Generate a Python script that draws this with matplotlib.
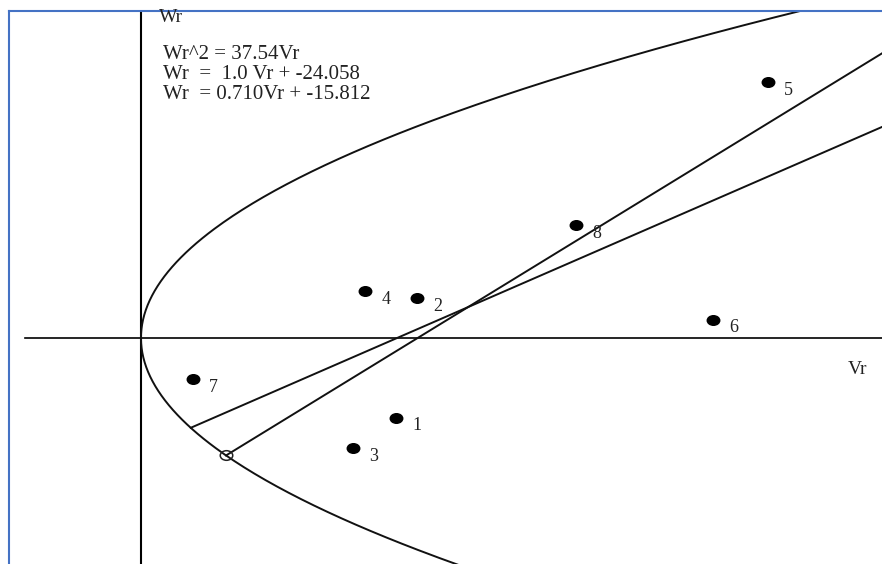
import numpy as np
import matplotlib
matplotlib.use("Agg")
import matplotlib.pyplot as plt
from matplotlib.path import Path
from matplotlib.transforms import Affine2D
from matplotlib.lines import Line2D

plt.rcParams['font.family'] = ['Liberation Serif', 'DejaVu Serif']

# data
point_labels = ['1', '2', '3', '4', '5', '6', '7', '8']
vr_points = [22.2, 24.0, 18.4, 19.5, 54.5, 49.7, 4.5, 37.8]
wr_points = [-11.3, 5.7, -15.6, 6.6, 36.3, 2.6, -5.8, 16.0]

k_par = 37.54                     # Wr^2 = k Vr
slope_1, icpt_1 = 1.0, -24.058    # Wr = a Vr + b
slope_2, icpt_2 = 0.710, -15.812

eq_text = ["Wr^2 = 37.54Vr",
           "Wr  =  1.0 Vr + -24.058",
           "Wr  = 0.710Vr + -15.812"]

W, H = 882, 564
left_px, top_px = 8.5, 11

fig = plt.figure(figsize=(8.82, 5.64), dpi=100)
# axes area inside the blue frame, so the curves stop at it
ax = fig.add_axes([left_px / W, 0, 1 - left_px / W, 1 - top_px / H])
ax.set_xlim(-11.52, 64.43)
ax.set_ylim(-32.06, 46.38)
ax.axis('off')

# axes through origin
ax.axhline(0, xmin=(25 - left_px) / (W - left_px), xmax=1, color='black', lw=1.2)
ax.axvline(0, color='black', lw=1.5)

# parabola
w = np.linspace(-40, 50, 400)
ax.plot(w ** 2 / k_par, w, color='#111111', lw=1.4)


def par_cross(a, b):
    # smaller root of (a v + b)^2 = k v
    A = a * a
    B = 2 * a * b - k_par
    C = b * b
    return (-B - np.sqrt(B * B - 4 * A * C)) / (2 * A)


v1 = par_cross(slope_1, icpt_1)
v2 = par_cross(slope_2, icpt_2)
vv = np.linspace(v1, 70, 50)
ax.plot(vv, slope_1 * vv + icpt_1, color='#111111', lw=1.4)
vv = np.linspace(v2, 70, 50)
ax.plot(vv, slope_2 * vv + icpt_2, color='#111111', lw=1.4)

ell = Path.unit_circle().transformed(Affine2D().scale(1.3, 1.0))
ax.plot([v1], [slope_1 * v1 + icpt_1], marker=ell, markersize=9,
        markerfacecolor='none', markeredgecolor='#222222', mew=1.1, ls='none')

ax.plot(vr_points, wr_points, marker=ell, markersize=9, color='black', ls='none')
for lab, x, y in zip(point_labels, vr_points, wr_points):
    ax.annotate(lab, (x, y), xytext=(15, -6), textcoords='offset points',
                fontsize=13, va='center', ha='center', color='#222222')

# labels
fig.text(159 / W, 1 - 22 / H, "Wr", fontsize=14, va='baseline', color='#222222')
fig.text(848 / W, 1 - 374 / H, "Vr", fontsize=14, va='baseline', color='#222222')
for i, t in enumerate(eq_text):
    fig.text(163 / W, 1 - (59 + 20 * i) / H, t, fontsize=15,
             va='baseline', color='#222222')

# frame of the screenshot
fig.add_artist(Line2D([left_px / W, left_px / W], [0, 1 - top_px / H], color='#4472C4', lw=1.5))
fig.add_artist(Line2D([left_px / W, 1], [1 - top_px / H, 1 - top_px / H], color='#4472C4', lw=1.5))

fig.savefig("out.png", dpi=100)
